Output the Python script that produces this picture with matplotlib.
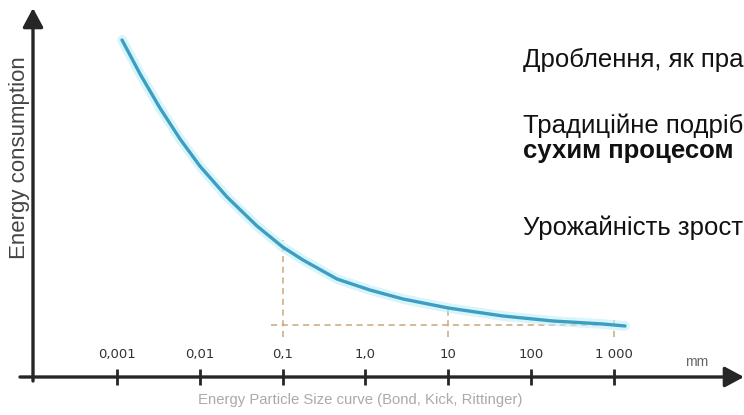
import matplotlib
matplotlib.use("Agg")
import matplotlib.pyplot as plt

# ---- data ----
particle_size_mm = [0.00115, 0.0019, 0.0033, 0.00577, 0.01, 0.0213, 0.049, 0.1,
                    0.176, 0.453, 1.13, 2.84, 10, 45.7, 184, 738, 1360]
energy = [337, 303, 269, 238, 211, 180, 151, 130, 117, 98, 87, 78, 69, 61, 56, 53, 51]

tick_values = [0.001, 0.01, 0.1, 1, 10, 100, 1000]
tick_labels = ["0,001", "0,01", "0,1", "1,0", "10", "100", "1 000"]

ref_level = 52          # horizontal dashed guide
guide_x = [0.1, 10, 1000]
guide_top = [137, 72, 59]
guide_bottom = 40
guide_left = 0.0723

y_label = "Energy consumption"
x_unit = "mm"
caption = "Energy Particle Size curve (Bond, Kick, Rittinger)"
slide_lines = ["Дроблення, як пра", "Традиційне подріб", "сухим процесом", "Урожайність зрост"]

# ---- figure ----
W, H = 744, 415
fig = plt.figure(figsize=(W / 100, H / 100), dpi=100)
fig.patch.set_facecolor("white")
ax = fig.add_axes([33 / W, 38 / H, 711 / W, 369 / H])
ax.set_xscale("log")
ax.set_xlim(10 ** -4.014, 10 ** 4.570)
ax.set_ylim(0, 369)
for s in ax.spines.values():
    s.set_visible(False)
ax.set_facecolor("none")

axis_col = "#262626"
arrow = dict(arrowstyle="-|>,head_length=0.58,head_width=0.31", lw=2.4,
             color=axis_col, mutation_scale=20, shrinkA=0, shrinkB=0)
ax.annotate("", xy=(1, 0), xytext=(-13 / 711, 0), xycoords="axes fraction",
            textcoords="axes fraction", arrowprops=arrow, annotation_clip=False)
ax.annotate("", xy=(0, 1), xytext=(0, -4 / 369), xycoords="axes fraction",
            textcoords="axes fraction", arrowprops=arrow, annotation_clip=False)

# curve with glow
ax.plot(particle_size_mm, energy, color="#bdeff8", lw=7, alpha=0.6,
        solid_capstyle="round", solid_joinstyle="round", zorder=3)
ax.plot(particle_size_mm, energy, color="#3d9ec2", lw=2.4,
        solid_capstyle="round", solid_joinstyle="round", zorder=4)

# dashed guides
dash_col = "#c9a77a"
ax.hlines(ref_level, guide_left, tick_values[-1], colors=dash_col, lw=1.1,
          linestyles=(0, (4, 3)), zorder=2)
ax.vlines(guide_x, guide_bottom, guide_top, colors=dash_col, lw=1.1,
          linestyles=(0, (4, 3)), zorder=2)

# ticks
ax.set_xticks(tick_values)
ax.set_xticklabels(tick_labels)
ax.minorticks_off()
ax.tick_params(axis="x", which="major", direction="inout", length=12, width=2,
               color=axis_col, pad=-27, labelsize=9.5, labelcolor="#333333")
ax.set_yticks([])

ax.text((697 - 33) / 711, (377 - 362) / 369, x_unit, transform=ax.transAxes,
        fontsize=10, color="#666666", ha="center", va="center",
        family="Liberation Sans")

fig.text(20 / W, 1 - 158 / H, y_label, rotation=90, ha="center", va="center",
         fontsize=16, color="#444444", family="Liberation Sans")
fig.text(360 / W, 1 - 400 / H, caption, ha="center", va="center",
         fontsize=10.7, color="#aaaaaa", family="Liberation Sans")

# slide text on the right (cut off by the frame)
baselines = [67, 133, 158, 235]
weights = ["normal", "normal", "bold", "normal"]
for line, b, w in zip(slide_lines, baselines, weights):
    fig.text(523 / W, 1 - b / H, line, ha="left", va="baseline", fontsize=18.5,
             color="#111111", fontweight=w, family="Liberation Sans")

fig.savefig("out.png", dpi=100, facecolor="white")
